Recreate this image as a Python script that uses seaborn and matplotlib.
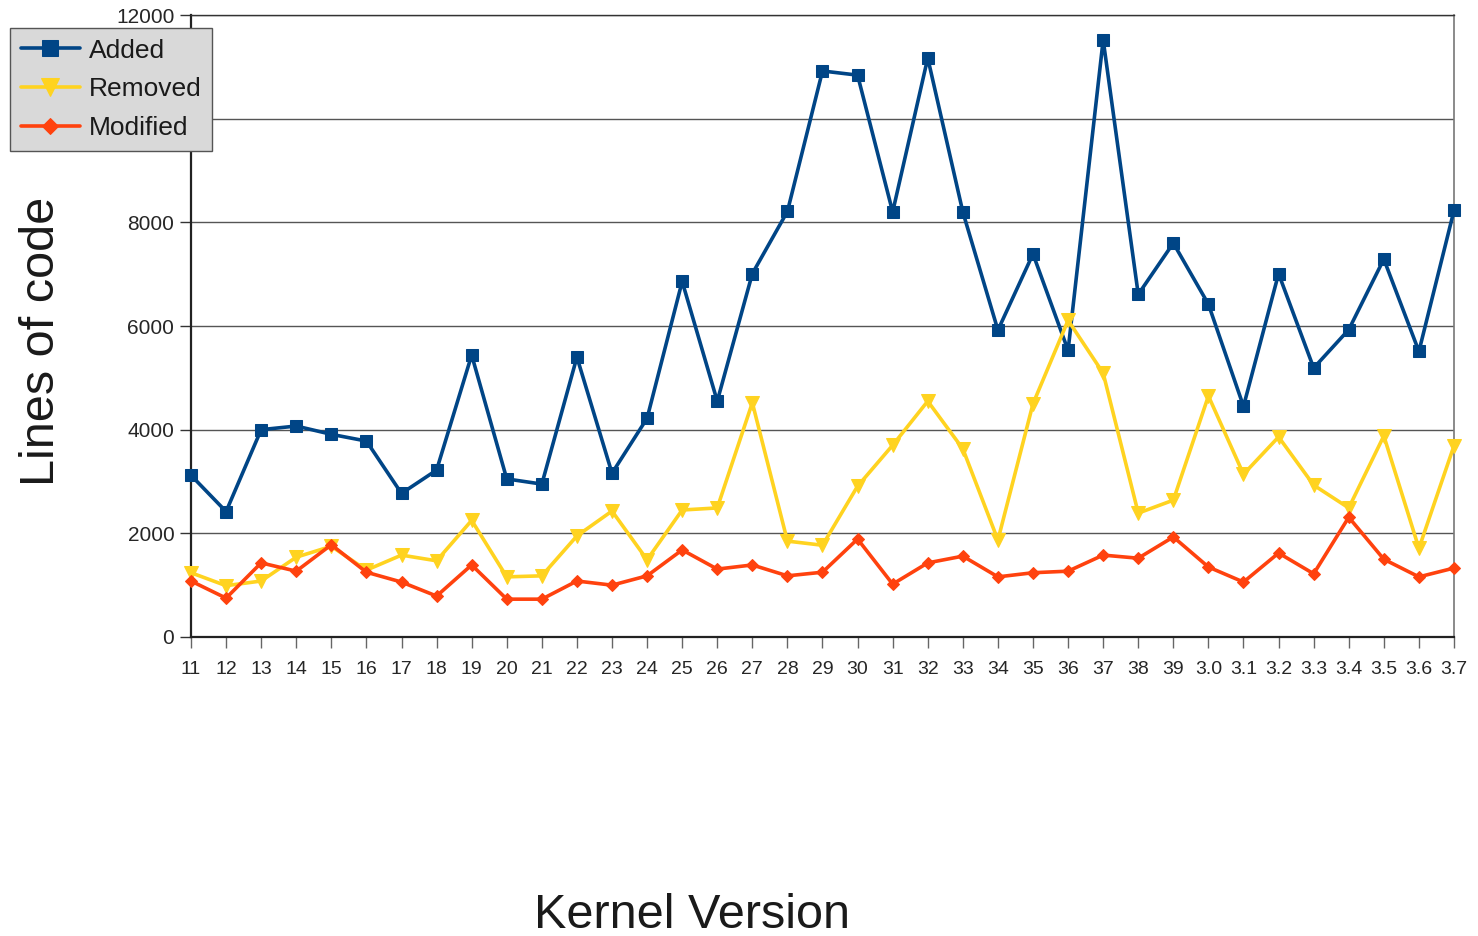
import matplotlib
matplotlib.use("Agg")
import matplotlib.pyplot as plt
import seaborn as sns
import pandas as pd

versions = ["11", "12", "13", "14", "15", "16", "17", "18", "19", "20", "21", "22", "23", "24",
            "25", "26", "27", "28", "29", "30", "31", "32", "33", "34", "35", "36", "37", "38",
            "39", "3.0", "3.1", "3.2", "3.3", "3.4", "3.5", "3.6", "3.7"]
added = [3120, 2420, 4000, 4070, 3910, 3780, 2770, 3220, 5440, 3050, 2950, 5400, 3160, 4220,
         6860, 4550, 7010, 8210, 10920, 10840, 8200, 11170, 8200, 5920, 7390, 5530, 11520, 6610,
         7600, 6420, 4450, 7010, 5190, 5930, 7290, 5510, 8230]
removed = [1240, 990, 1080, 1540, 1750, 1290, 1580, 1470, 2250, 1160, 1180, 1950, 2430, 1490,
           2450, 2490, 4520, 1850, 1770, 2910, 3700, 4550, 3630, 1870, 4500, 6110, 5090, 2390,
           2640, 4650, 3140, 3860, 2930, 2490, 3880, 1710, 3690]
modified = [1080, 750, 1430, 1270, 1780, 1250, 1060, 790, 1390, 730, 730, 1080, 1000, 1180,
            1680, 1310, 1390, 1180, 1250, 1890, 1020, 1430, 1560, 1160, 1240, 1270, 1580, 1520,
            1930, 1350, 1060, 1620, 1220, 2310, 1500, 1160, 1330]
y_ticks = [0, 2000, 4000, 6000, 8000, 10000, 12000]

series_names = ["Added", "Removed", "Modified"]
colors = ["#004586", "#ffd320", "#ff420e"]
markers = ["s", "v", "D"]
msizes = [8.5, 9.5, 6.5]

sns.set_theme(style="white")
plt.rcParams["font.family"] = ["Liberation Sans", "DejaVu Sans"]

fig = plt.figure(figsize=(14.78, 9.36), dpi=100)
ax = fig.add_axes([191 / 1478, 1 - 637 / 936, (1454 - 191) / 1478, (637 - 15) / 936])

pos = list(range(len(versions)))
for name, vals, c, m, ms in zip(series_names, [added, removed, modified], colors, markers, msizes):
    df = pd.DataFrame({"pos": pos, "val": vals})
    sns.lineplot(data=df, x="pos", y="val", ax=ax, color=c, marker=m, markersize=ms,
                 markeredgecolor=c, linewidth=2.6, label=name, clip_on=False, zorder=3)

ax.set_xlim(0, len(versions) - 1)
ax.set_ylim(0, 12000)
ax.set_xticks(pos)
ax.set_xticklabels(versions, fontsize=14)
ax.set_yticks(y_ticks)
ax.set_yticklabels([str(v) for v in y_ticks], fontsize=15)
# the 10000 label sits under the legend box in the original
for lbl in ax.get_yticklabels():
    if lbl.get_text() == "10000":
        lbl.set_visible(False)
ax.tick_params(axis="x", direction="out", length=8, width=1, color="#666666", pad=9,
               bottom=True)
ax.tick_params(axis="y", direction="out", length=8, width=1, color="#333333", pad=4, left=True)
ax.grid(axis="y", color="#555555", linewidth=1)
ax.grid(axis="x", visible=False)
ax.set_axisbelow(True)
for side in ["left", "bottom"]:
    ax.spines[side].set_color("#222222")
    ax.spines[side].set_linewidth(1.6)
ax.spines["right"].set_color("#777777")
ax.spines["right"].set_linewidth(1.2)
ax.spines["top"].set_color("#333333")
ax.spines["top"].set_linewidth(1)

ax.set_xlabel("Kernel Version", fontsize=35, color="#1a1a1a")
ax.xaxis.set_label_coords((692 - 191) / 1263, (637 - 916) / 622)
ax.xaxis.label.set_va("center")
ax.set_ylabel("Lines of code", fontsize=35, color="#1a1a1a")
ax.yaxis.set_label_coords((42 - 191) / 1263, (637 - 341) / 622)
ax.yaxis.label.set_va("center")

ax.get_legend().remove()
handles, labels = ax.get_legend_handles_labels()
leg = fig.legend(handles, labels, loc="upper left", bbox_to_anchor=(10 / 1478, 1 - 28 / 936),
                 borderaxespad=0, fontsize=19, frameon=True, fancybox=False,
                 facecolor="#d9d9d9", edgecolor="#555555", framealpha=1, markerscale=1.3,
                 handlelength=2.25, handletextpad=0.35, labelspacing=0.56, borderpad=0.4)
leg.get_frame().set_linewidth(1)
leg.set_zorder(10)
for t in leg.get_texts():
    t.set_color("#1a1a1a")

fig.savefig("out.png", dpi=100)
